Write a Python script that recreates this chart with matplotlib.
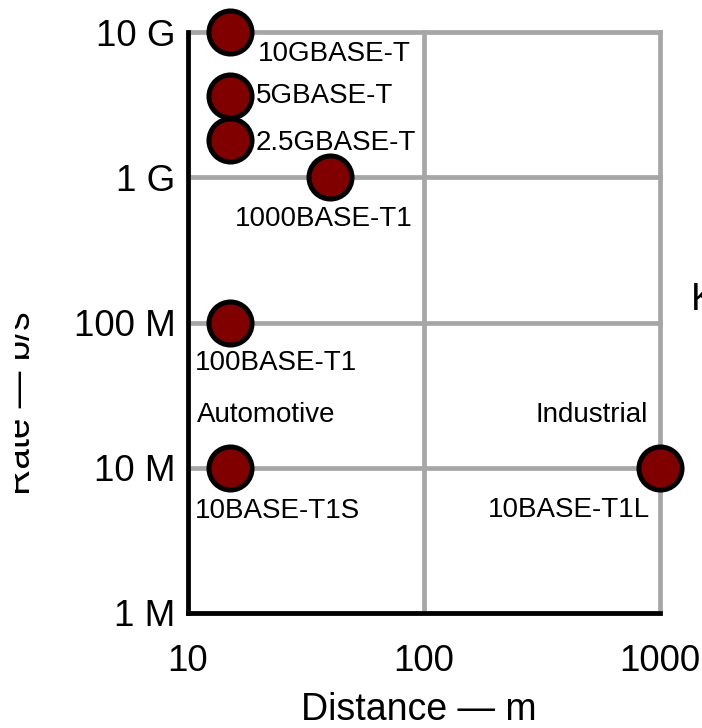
import matplotlib
matplotlib.use("Agg")
import matplotlib.pyplot as plt
from matplotlib.patches import Rectangle

plt.rcParams["font.family"] = ["Liberation Sans", "DejaVu Sans"]

# Data
names = ["10GBASE-T", "5GBASE-T", "2.5GBASE-T", "1000BASE-T1",
         "100BASE-T1", "10BASE-T1S", "10BASE-T1L"]
distance_m = [15, 15, 15, 40, 15, 15, 1000]
rate_bps = [1e10, 3.6e9, 1.8e9, 1e9, 1e8, 1e7, 1e7]

x_ticks = [10, 100, 1000]
x_tick_labels = ["10", "100", "1000"]
y_ticks = [1e6, 1e7, 1e8, 1e9, 1e10]
y_tick_labels = ["1 M", "10 M", "100 M", "1 G", "10 G"]

groups = ["Automotive", "Industrial"]
group_x = [10.9, 890]
group_y = [2.3e7, 2.3e7]

# label placement (pixel offsets from each point, alignment)
label_offsets = [(28, -22), (26, 0), (26, -3), (-6, -42), (-35, -40), (-35, -43), (-10, -42)]
label_ha = ["left", "left", "left", "center", "left", "left", "right"]

W, H = 702, 728
fig = plt.figure(figsize=(W / 100, H / 100), dpi=100)
ax = fig.add_axes([188 / W, 1 - 613 / H, (660 - 188) / W, (613 - 32) / H])

ax.set_xscale("log")
ax.set_yscale("log")
ax.set_xlim(10, 1000)
ax.set_ylim(1e6, 1e10)
ax.set_xticks(x_ticks)
ax.set_xticklabels(x_tick_labels)
ax.set_yticks(y_ticks)
ax.set_yticklabels(y_tick_labels)
ax.minorticks_off()
ax.tick_params(axis="both", length=0, labelsize=26.5)
ax.tick_params(axis="x", pad=22)
ax.tick_params(axis="y", pad=9)

ax.grid(True, color="#a6a6a6", linewidth=3.4)
for gl in ax.get_xgridlines() + ax.get_ygridlines():
    gl.set_clip_on(False)
ax.set_axisbelow(True)

for side in ["top", "right"]:
    ax.spines[side].set_visible(False)
for side in ["left", "bottom"]:
    ax.spines[side].set_linewidth(3.4)
    ax.spines[side].set_color("black")
    ax.spines[side].set_zorder(3)

ax.plot(distance_m, rate_bps, linestyle="none", marker="o", markersize=31,
        markerfacecolor="#800000", markeredgecolor="black", markeredgewidth=3.6,
        clip_on=False, zorder=4)

for name, x, y, off, ha in zip(names, distance_m, rate_bps, label_offsets, label_ha):
    ax.annotate(name, (x, y), xytext=off, textcoords="offset pixels",
                ha=ha, va="center", fontsize=20, zorder=5)

for g, x, y in zip(groups, group_x, group_y):
    ax.text(x, y, g, ha="left" if g == "Automotive" else "right",
            va="center", fontsize=20)

fig.text(419 / W, 8 / H, "Distance — m", ha="center", va="baseline", fontsize=27)
fig.text(21 / W, 1 - 403 / H, "Rate — b/s", rotation=90, ha="center",
         va="center", fontsize=26.5)
# reference has the left part of the y label cut off
fig.patches.append(Rectangle((0, 0), 15 / W, 1, transform=fig.transFigure,
                             facecolor="white", edgecolor="none", zorder=10))
# clipped text at the right edge of the reference
fig.text(691 / W, 1 - 300 / H, "Key", ha="left", va="center", fontsize=27)

fig.savefig("out.png", dpi=100)
plt.close(fig)
